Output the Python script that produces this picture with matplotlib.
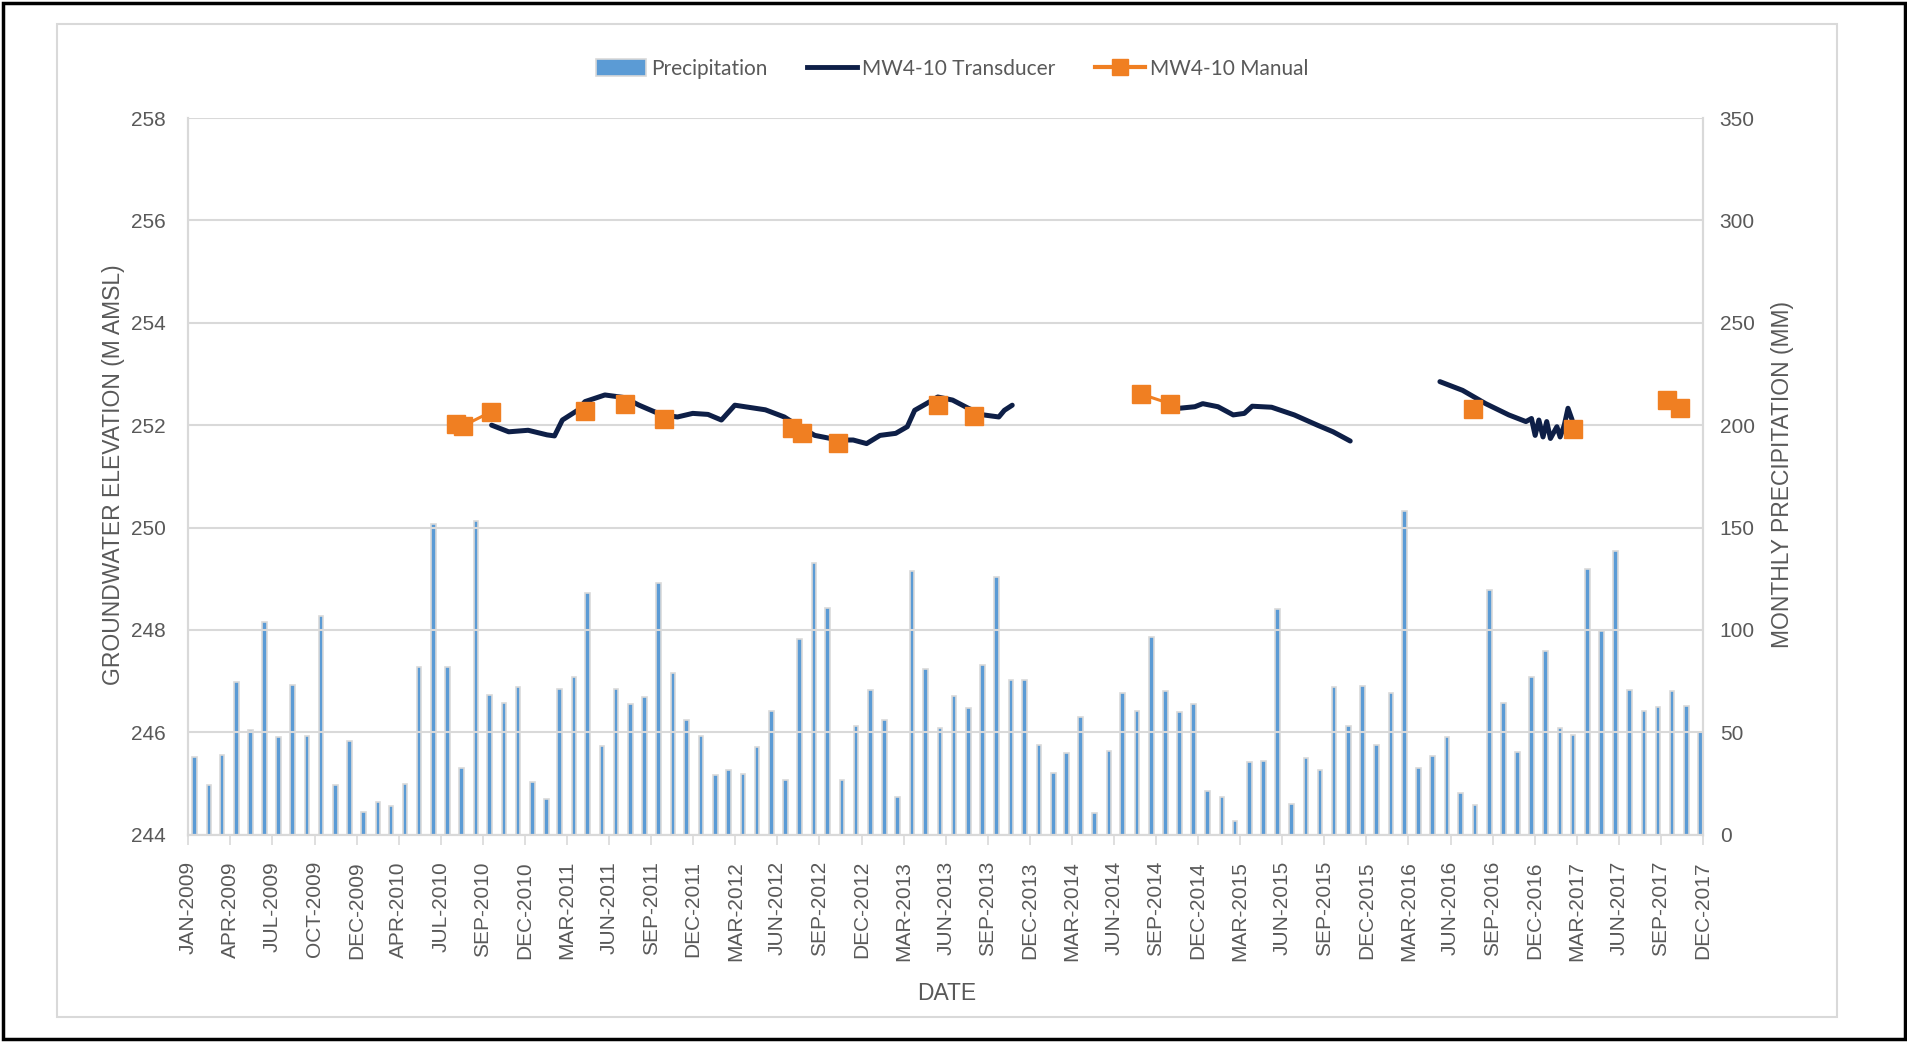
import matplotlib
matplotlib.use('Agg')
import matplotlib.pyplot as plt
import matplotlib.dates as mdates
import numpy as np
import pandas as pd
from matplotlib.patches import Rectangle
from matplotlib.lines import Line2D

# ---------------- data ----------------
precip_first_month = '2009-01-01'
precip_mm = [
    38.1, 24.3, 38.9, 74.7, 50.9, 104.0, 47.7, 73.1, 48.3, 106.6, 24.3, 45.9,   # 2009
    11.2, 15.8, 13.8, 24.7, 81.7, 151.7, 81.7, 32.4, 153.0, 68.2, 64.5, 72.3,   # 2010
    25.9, 17.6, 71.1, 77.0, 118.2, 43.1, 71.0, 63.8, 67.2, 123.0, 79.1, 55.8,   # 2011
    48.2, 29.0, 31.6, 29.6, 42.6, 60.2, 26.9, 95.5, 132.5, 110.8, 26.9, 52.9,   # 2012
    70.5, 55.8, 18.2, 128.6, 81.1, 52.1, 67.7, 62.0, 82.7, 126.0, 75.7, 75.7,   # 2013
    43.8, 29.9, 40.0, 57.3, 10.8, 40.7, 69.3, 60.4, 96.7, 70.0, 59.9, 63.8,     # 2014
    21.2, 18.4, 6.5, 35.5, 36.0, 110.2, 15.0, 37.6, 31.6, 71.9, 52.9, 72.6,     # 2015
    43.8, 69.0, 157.9, 32.4, 38.6, 47.7, 20.2, 14.3, 119.5, 64.1, 40.2, 77.1,   # 2016
    89.7, 52.2, 48.7, 129.7, 99.6, 138.5, 70.6, 60.4, 62.2, 70.3, 62.8, 50.3,   # 2017
]

trans_dates_1 = ['2010-10-19', '2010-11-25', '2011-01-06', '2011-02-16', '2011-03-04',
                 '2011-03-21', '2011-04-23', '2011-05-09', '2011-06-21', '2011-08-01',
                 '2011-09-03', '2011-10-22', '2011-11-25', '2011-12-28', '2012-01-30',
                 '2012-02-28', '2012-03-28', '2012-06-02', '2012-07-13', '2012-08-15',
                 '2012-09-17', '2012-11-07', '2012-12-09', '2013-01-07', '2013-02-05',
                 '2013-03-11', '2013-04-05', '2013-04-21', '2013-05-24', '2013-06-10',
                 '2013-07-12', '2013-08-15', '2013-09-17', '2013-10-20', '2013-11-01',
                 '2013-11-18']
trans_vals_1 = [252.00, 251.87, 251.90, 251.81, 251.79,
                252.10, 252.29, 252.46, 252.59, 252.54,
                252.39, 252.20, 252.16, 252.23, 252.21,
                252.10, 252.39, 252.30, 252.16, 251.97,
                251.80, 251.71, 251.71, 251.64, 251.80,
                251.84, 251.97, 252.29, 252.46, 252.55,
                252.49, 252.33, 252.20, 252.16, 252.29,
                252.39]

trans_dates_2 = ['2014-11-14', '2014-12-18', '2015-01-04', '2015-02-06', '2015-03-11',
                 '2015-04-04', '2015-04-21', '2015-06-02', '2015-07-21', '2015-09-09',
                 '2015-10-13', '2015-11-19']
trans_vals_2 = [252.33, 252.36, 252.42, 252.36, 252.20,
                252.23, 252.37, 252.35, 252.20, 252.00,
                251.87, 251.69]

trans_dates_3 = ['2016-05-31', '2016-07-19', '2016-09-07', '2016-10-27', '2016-12-03',
                 '2016-12-15', '2016-12-23', '2016-12-31', '2017-01-09', '2017-01-17',
                 '2017-01-25', '2017-02-08', '2017-02-15', '2017-02-24', '2017-03-04',
                 '2017-03-13']
trans_vals_3 = [252.85, 252.68, 252.42, 252.20, 252.07,
                252.13, 251.80, 252.10, 251.77, 252.07,
                251.74, 251.97, 251.77, 252.00, 252.33,
                252.10]

# manual readings; None/NaN rows break the connecting line (as in the source sheet)
manual_dates = ['2010-08-03', '2010-08-19', '2010-10-18', None,
                '2011-05-10', None, '2011-08-03', None, '2011-10-27', None,
                '2012-07-30', '2012-08-20', None, '2012-11-07', None,
                '2013-06-10', None, '2013-08-28', None,
                '2014-08-23', '2014-10-25', None,
                '2016-08-11', None, '2017-03-15', None,
                '2017-10-05', '2017-11-01']
manual_vals = [252.03, 251.99, 252.26, np.nan,
               252.27, np.nan, 252.41, np.nan, 252.12, np.nan,
               251.94, 251.84, np.nan, 251.65, np.nan,
               252.40, np.nan, 252.18, np.nan,
               252.61, 252.42, np.nan,
               252.32, np.nan, 251.93, np.nan,
               252.50, 252.34]

tick_labels = ['JAN-2009', 'APR-2009', 'JUL-2009', 'OCT-2009', 'DEC-2009', 'APR-2010',
               'JUL-2010', 'SEP-2010', 'DEC-2010', 'MAR-2011', 'JUN-2011', 'SEP-2011',
               'DEC-2011', 'MAR-2012', 'JUN-2012', 'SEP-2012', 'DEC-2012', 'MAR-2013',
               'JUN-2013', 'SEP-2013', 'DEC-2013', 'MAR-2014', 'JUN-2014', 'SEP-2014',
               'DEC-2014', 'MAR-2015', 'JUN-2015', 'SEP-2015', 'DEC-2015', 'MAR-2016',
               'JUN-2016', 'SEP-2016', 'DEC-2016', 'MAR-2017', 'JUN-2017', 'SEP-2017',
               'DEC-2017']

# ---------------- styling ----------------
GRAY_TXT = '#595959'
GRID = '#D9D9D9'
BAR = '#5B9BD5'
NAVY = '#0E1F47'
ORANGE = '#F07F22'

W, H = 1908, 1042
fig = plt.figure(figsize=(W / 100, H / 100), dpi=100)
fig.patch.set_facecolor('white')

L, R, B, T = 188.3, 1703, 834.7, 118
ax = fig.add_axes([L / W, 1 - B / H, (R - L) / W, (B - T) / H])
ax2 = ax.twinx()

tick_font = ['Liberation Sans', 'DejaVu Sans']
num_font = ['Liberation Sans Narrow', 'Liberation Sans', 'DejaVu Sans']
label_font = ['Liberation Sans', 'DejaVu Sans']
legend_font = ['Lato', 'DejaVu Sans']

# x positions: date axis, major unit 91 days from 1 Jan 2009
axis_start = pd.Timestamp('2009-01-01')
tick_pos = [mdates.date2num(axis_start + pd.Timedelta(days=91 * i)) for i in range(len(tick_labels))]
bar_dates = mdates.date2num(pd.date_range(precip_first_month, periods=len(precip_mm), freq='MS')
                            + pd.Timedelta(days=14))

# bars on the secondary (right) axis
ax2.bar(bar_dates, precip_mm, width=10, color=BAR, edgecolor=GRID, linewidth=1.2,
        zorder=2, label='Precipitation')
ax2.set_ylim(0, 350)
ax2.set_yticks(np.arange(0, 351, 50))

# lines on the primary (left) axis
for d, v in [(trans_dates_1, trans_vals_1), (trans_dates_2, trans_vals_2), (trans_dates_3, trans_vals_3)]:
    ax.plot(mdates.date2num(pd.to_datetime(d)), v, color=NAVY, lw=3.6, solid_capstyle='round',
            solid_joinstyle='round', zorder=3)
md = [mdates.date2num(pd.Timestamp(x)) if x is not None else np.nan for x in manual_dates]
ax.plot(md, manual_vals, color=ORANGE, lw=2.2, marker='s', markersize=12.5,
        markeredgecolor=ORANGE, zorder=4)

ax.set_ylim(244, 258)
ax.set_yticks(np.arange(244, 259, 2))
ax.set_xlim(tick_pos[0], tick_pos[-1])
ax.set_xticks(tick_pos)
ax.set_xticklabels(tick_labels, rotation=90, fontsize=15, color=GRAY_TXT,
                   family=tick_font)
ax.tick_params(axis='x', length=7, width=1.2, color=GRID, pad=12)
ax.tick_params(axis='y', length=0, pad=16, labelsize=15, labelcolor=GRAY_TXT)
ax2.tick_params(axis='y', length=0, pad=12, labelsize=15, labelcolor=GRAY_TXT)
for t in ax.get_yticklabels() + ax2.get_yticklabels():
    t.set_family(num_font)

ax.grid(axis='y', color=GRID, lw=1.5, zorder=0)
ax.set_axisbelow(True)
ax.patch.set_visible(False)
ax2.patch.set_visible(False)
ax.set_zorder(ax2.get_zorder() + 1)

for a in (ax, ax2):
    a.spines['top'].set_visible(False)
    for s in ('left', 'right', 'bottom'):
        a.spines[s].set_color(GRID)
        a.spines[s].set_linewidth(1.5)

ax.set_ylabel('GROUNDWATER ELEVATION (M AMSL)', fontsize=16.5, color=GRAY_TXT, family=label_font)
ax.yaxis.set_label_coords(125 / W, 1 - 475 / H, transform=fig.transFigure)
ax2.set_ylabel('MONTHLY PRECIPITATION (MM)', fontsize=16.5, color=GRAY_TXT, family=label_font,
               rotation=90)
ax2.yaxis.set_label_coords(1771 / W, 1 - 475 / H, transform=fig.transFigure)
ax.set_xlabel('DATE', fontsize=16.5, color=GRAY_TXT, family=label_font)
ax.xaxis.set_label_coords(946.7 / W, 1 - 982 / H, transform=fig.transFigure)

# legend
handles = [Rectangle((0, 0), 1, 1, facecolor=BAR, edgecolor=GRID, linewidth=1.2),
           Line2D([], [], color=NAVY, lw=3.5),
           Line2D([], [], color=ORANGE, lw=3, marker='s', markersize=12)]
leg = fig.legend(handles, ['Precipitation', 'MW4-10 Transducer', 'MW4-10 Manual'],
                 loc='center', bbox_to_anchor=(952 / W, 1 - 69 / H), ncol=3, frameon=False,
                 prop={'family': legend_font, 'size': 15}, labelcolor=GRAY_TXT,
                 handlelength=2.4, handletextpad=0.25, columnspacing=1.9, handleheight=0.9)

# chart area border and outer black frame
fig.patches.append(Rectangle((57 / W, 1 - 1017 / H), (1837 - 57) / W, (1017 - 24) / H,
                             transform=fig.transFigure, fill=False, edgecolor=GRID, lw=1.5))
fig.patches.append(Rectangle((0.0015, 0.003), 0.997, 0.994, transform=fig.transFigure,
                             fill=False, edgecolor='black', lw=2.5))

fig.savefig('out.png', dpi=100, facecolor='white')
